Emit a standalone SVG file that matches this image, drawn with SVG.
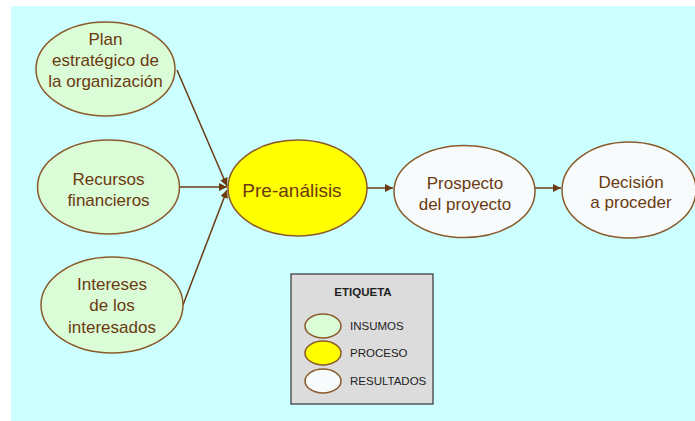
<svg xmlns="http://www.w3.org/2000/svg" width="695" height="421" viewBox="0 0 695 421">
<defs>
<style>
.in{fill:#dafcd6;stroke:#8b5a2b;stroke-width:1.5}
.pr{fill:#ffff00;stroke:#8b5a2b;stroke-width:1.5}
.out{fill:#f7fbfc;stroke:#8b5a2b;stroke-width:1.5}
.t{font-family:"Liberation Sans",Arial,sans-serif;font-size:17px;fill:#6b3a10;text-anchor:middle}
.big{font-size:19px}
.lg{font-family:"Liberation Sans",Arial,sans-serif;font-size:11.5px;fill:#222}
.c{stroke:#6b3a10;stroke-width:1.5;fill:none;marker-end:url(#ah)}
</style>
<marker id="ah" viewBox="0 0 10 10" refX="10" refY="5" markerWidth="8" markerHeight="8" markerUnits="userSpaceOnUse" orient="auto">
<path d="M0,0 L10,5 L0,10 z" fill="#6b3a10"/>
</marker>
</defs>
<rect x="0" y="0" width="695" height="421" fill="#ffffff"/>
<rect x="11" y="6" width="684" height="415" fill="#ccffff"/>
<g id="connectors">
<line class="c" x1="177" y1="70" x2="227" y2="186"/>
<line class="c" x1="180" y1="187" x2="227" y2="187"/>
<line class="c" x1="183" y1="305" x2="227" y2="190"/>
<line class="c" x1="367" y1="188" x2="393" y2="188"/>
<line class="c" x1="535" y1="188" x2="561" y2="188"/>
</g>
<g id="plan">
<ellipse class="in" cx="105.5" cy="69" rx="69.5" ry="47"/>
<text class="t" x="105.5" y="45">Plan</text>
<text class="t" x="105.5" y="66">estratégico de</text>
<text class="t" x="105.5" y="87">la organización</text>
</g>
<g id="recursos">
<ellipse class="in" cx="108.5" cy="187" rx="71" ry="47"/>
<text class="t" x="108.5" y="185">Recursos</text>
<text class="t" x="108.5" y="206">financieros</text>
</g>
<g id="intereses">
<ellipse class="in" cx="112" cy="305" rx="71" ry="48"/>
<text class="t" x="112" y="290">Intereses</text>
<text class="t" x="112" y="311">de los</text>
<text class="t" x="112" y="333">interesados</text>
</g>
<g id="preanalisis">
<ellipse class="pr" cx="297.5" cy="188" rx="69.5" ry="48"/>
<text class="t big" x="292" y="197">Pre-análisis</text>
</g>
<g id="prospecto">
<ellipse class="out" cx="464.5" cy="191.5" rx="70.5" ry="46"/>
<text class="t" x="465" y="189">Prospecto</text>
<text class="t" x="465" y="210">del proyecto</text>
</g>
<g id="decision">
<ellipse class="out" cx="629" cy="190" rx="67" ry="48"/>
<text class="t" x="631" y="188">Decisión</text>
<text class="t" x="631" y="208">a proceder</text>
</g>
<g id="legend">
<rect x="291" y="274" width="142" height="130" fill="#dcdcdc" stroke="#333" stroke-width="1.2"/>
<text class="lg" x="363" y="296" text-anchor="middle" font-weight="bold" font-size="10">ETIQUETA</text>
<ellipse class="in" cx="323" cy="326" rx="18" ry="12"/>
<ellipse class="pr" cx="323" cy="353" rx="18" ry="12"/>
<ellipse class="out" cx="323" cy="381" rx="18" ry="12"/>
<text class="lg" x="350" y="330">INSUMOS</text>
<text class="lg" x="350" y="357">PROCESO</text>
<text class="lg" x="350" y="385">RESULTADOS</text>
</g>
</svg>
